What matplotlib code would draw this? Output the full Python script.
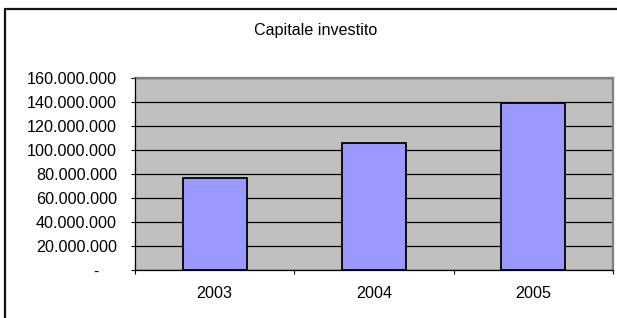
import matplotlib
matplotlib.use("Agg")
import matplotlib.pyplot as plt
from matplotlib.patches import Rectangle
from matplotlib.ticker import FuncFormatter, FixedLocator

plt.rcParams['font.family'] = ['Liberation Sans', 'DejaVu Sans']

title = "Capitale investito"
years = ["2003", "2004", "2005"]
values = [76_500_000, 105_600_000, 139_400_000]
y_ticks = [0, 20_000_000, 40_000_000, 60_000_000, 80_000_000,
           100_000_000, 120_000_000, 140_000_000, 160_000_000]

FS = 11.6
W, H = 617, 318
fig = plt.figure(figsize=(W / 100, H / 100), dpi=100)
fig.patch.set_facecolor('white')

# outer chart border (only top and left visible)
fig.patches.append(Rectangle((5 / W, -0.1), 2.0, (H - 9) / H + 0.1,
                             transform=fig.transFigure, fill=False,
                             edgecolor='#111111', linewidth=1.6, clip_on=False))

L, R, T, B = 135, 613, 78, 270
ax = fig.add_axes([L / W, (H - B) / H, (R - L) / W, (B - T) / H])
ax.set_facecolor('#C0C0C0')

x = list(range(len(years)))
ax.bar(x, values, width=0.4, color='#9999FF', edgecolor='black',
       linewidth=1.3, zorder=3)

ax.set_xlim(-0.5, len(years) - 0.5)
ax.set_ylim(0, 160_000_000)
ax.set_yticks(y_ticks)

def fmt(v, pos):
    if v == 0:
        return "-    "
    return f"{int(v):,}".replace(",", ".")

ax.yaxis.set_major_formatter(FuncFormatter(fmt))
ax.yaxis.grid(True, color='black', linewidth=0.9, zorder=1)
ax.set_axisbelow(True)

ax.set_xticks(x)
ax.set_xticklabels(years)
ax.xaxis.set_minor_locator(FixedLocator([-0.5, 0.5, 1.5, 2.5]))
ax.tick_params(axis='x', which='major', length=0, pad=11.5, labelsize=FS)
ax.tick_params(axis='x', which='minor', length=3, width=0.8, direction='out')
ax.tick_params(axis='y', length=3, width=0.8, pad=10, labelsize=FS)

for s in ['top', 'right']:
    ax.spines[s].set_color('#808080')
    ax.spines[s].set_linewidth(1.6)
for s in ['left', 'bottom']:
    ax.spines[s].set_color('black')
    ax.spines[s].set_linewidth(0.9)
    ax.spines[s].set_zorder(4)

fig.text(316 / W, 1 - 30 / H, title, ha='center', va='center', fontsize=FS)

fig.savefig("out.png", dpi=100)
